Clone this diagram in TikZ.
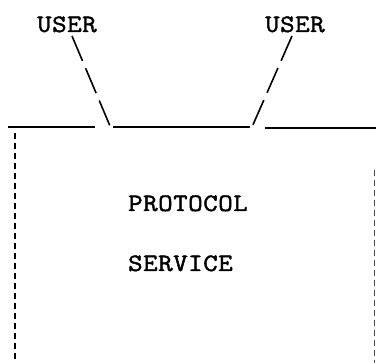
\documentclass[tikz,border=0pt]{standalone}
\usepackage{fontspec}
\newfontfamily\typewriter{Latin Modern Mono}[FakeStretch=1.12, LetterSpace=2.4, FakeBold=1.8]
\begin{document}
\begin{tikzpicture}[x=1pt,y=1pt,
  lbl/.style={inner sep=0pt, anchor=base west, font=\typewriter\fontsize{25}{29}\selectfont},
  rule/.style={line width=1.4pt},
  slash/.style={line width=1.6pt, dash pattern=on 27pt off 8pt},
  side/.style={line width=2pt, dash pattern=on 6pt off 4pt}]
\useasboundingbox (0,0) rectangle (376,-363);
% users
\node[lbl] (u1) at (37,-32) {USER};
\node[lbl] (u2) at (265,-32) {USER};
% attachment points on the service boundary
\coordinate (p1) at (110,-126);
\coordinate (p2) at (252,-127);
\coordinate (l0) at (8,-127);
\coordinate (l1) at (95,-127);
\coordinate (m0) at (113,-127);
\coordinate (m1) at (250,-127);
\coordinate (r0) at (265,-128);
\coordinate (r1) at (376,-128);
% boundary
\draw[rule] (l0) -- (l1);
\draw[rule] (m0) -- (m1);
\draw[rule] (r0) -- (r1);
% connectors
\draw[slash] (72,-36) -- (p1);
\draw[slash] (292,-36) -- (p2);
% dashed sides
\coordinate (a0) at (15,-133);
\coordinate (a1) at (15,-363);
\coordinate (b0) at (374.5,-170);
\coordinate (b1) at (374.5,-363);
\draw[side] (a0) -- (a1);
\draw[side, line width=1.5pt, black!70] (b0) -- (b1);
% service text
\node[lbl] (t1) at (128,-211) {PROTOCOL};
\node[lbl] (t2) at (128,-271) {SERVICE};
\end{tikzpicture}
\end{document}
